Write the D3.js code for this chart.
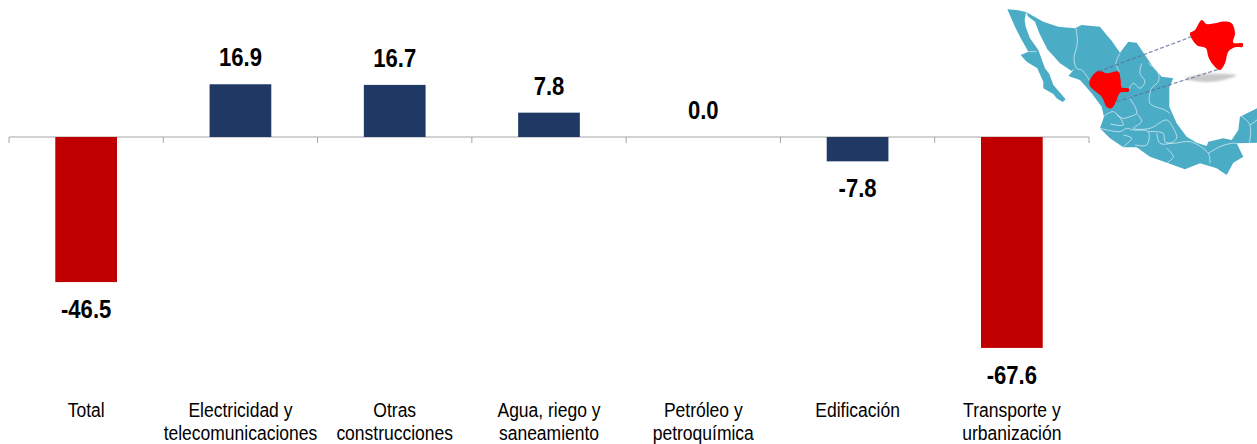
<!DOCTYPE html>
<html>
<head>
<meta charset="utf-8">
<script src="https://cdn.jsdelivr.net/npm/d3@7"></script>
<style>
  html, body { margin: 0; padding: 0; background: #fff; }
  svg { display: block; }
  text { font-family: "Liberation Sans", Arial, sans-serif; fill: #000; }
</style>
</head>
<body>
<div id="chart"></div>
<script>
const categories = [
  ["Total"],
  ["Electricidad y", "telecomunicaciones"],
  ["Otras", "construcciones"],
  ["Agua, riego y", "saneamiento"],
  ["Petróleo y", "petroquímica"],
  ["Edificación"],
  ["Transporte y", "urbanización"]
]
const values = [-46.5, 16.9, 16.7, 7.8, 0.0, -7.8, -67.6]

// map decoration in 3x crop units
const bajaOutline = [[142,28],[170,30],[198,36],[194,60],[197,80],[210,115],[235,150],[246,180],[255,205],[268,222],[280,255],[295,272],[317,298],[308,306],[290,295],[280,282],[250,265],[250,245],[232,205],[200,185],[182,165],[205,155],[180,110],[165,80]]
const mainlandOutline = [[198,36],[250,65],[295,80],[345,85],[365,75],[420,80],[440,105],[455,122],[480,158],[505,125],[530,128],[555,165],[575,195],[605,230],[640,235],[628,262],[628,320],[650,370],[680,410],[710,428],[740,438],[745,425],[790,415],[815,420],[835,390],[840,350],[891,325],[891,428],[830,430],[850,470],[820,488],[800,525],[770,505],[720,490],[675,508],[625,490],[570,470],[530,442],[490,442],[450,415],[420,385],[432,350],[425,320],[395,280],[360,240],[325,228],[345,205],[335,213],[300,190],[262,148],[238,100],[225,65],[205,50]]
const stateBorders = [
  [[348,85],[352,130],[342,175],[350,205],[365,210],[388,240]],
  [[480,160],[468,190],[478,215]],
  [[205,155],[230,155]],
  [[545,190],[540,220],[555,245],[540,265],[520,250],[505,270]],
  [[565,190],[595,220],[595,245],[575,265],[570,310],[615,330],[630,340]],
  [[505,290],[525,320],[530,340],[510,350],[490,355],[470,345]],
  [[430,350],[460,335],[490,375],[450,372]],
  [[420,385],[480,395],[500,385],[520,390],[565,395],[560,435],[525,435]],
  [[530,340],[545,365],[520,385],[570,385],[620,360],[640,385],[650,415],[630,430],[600,430],[590,400]],
  [[565,395],[610,400],[615,425],[640,430],[690,425],[745,460],[750,490]],
  [[620,445],[640,470],[620,490]],
  [[745,460],[780,440],[815,430],[830,430]],
  [[840,345],[870,375],[868,430]],
  [[870,375],[891,360]],
  [[490,405],[515,415],[490,440]]
]
const durango = [[415,212],[440,220],[475,215],[482,240],[485,262],[507,266],[505,275],[480,278],[470,300],[455,325],[440,320],[425,290],[390,258],[390,240]]
const durangoInset = [[690,100],[705,90],[725,60],[740,72],[765,70],[785,65],[815,70],[825,100],[820,128],[848,130],[848,140],[825,142],[805,155],[795,190],[780,210],[760,195],[745,170],[738,145],[710,135]]
const insetShadow = [[675,236],[740,222],[830,226],[790,240],[740,246]]
const guideLines = [[[415,215],[695,110]], [[470,305],[775,208]]]

const width = 1257
const height = 444

const svg = d3.select("#chart").append("svg")
  .attr("width", width)
  .attr("height", height)

svg.append("defs").append("filter")
  .attr("id", "soft")
  .append("feGaussianBlur")
  .attr("stdDeviation", 3)

const x = d3.scaleBand()
  .domain(d3.range(categories.length))
  .range([9, 1089])
const y = d3.scaleLinear()
  .domain([-80, 20])
  .range([386.6, 74.6])

const barWidth = x.bandwidth() * 0.4
const centre = i => x(i) + x.bandwidth() / 2
const barColor = v => v < -10 ? "#c00000" : "#1f3864"

// axis at zero, ticks sit on the band edges
const axis = svg.append("g").attr("class", "axis")
axis.append("line")
  .attr("x1", 9)
  .attr("x2", 1089)
  .attr("y1", y(0))
  .attr("y2", y(0))
  .attr("stroke", "#a6a6a6")
  .attr("stroke-width", 1.2)
axis.selectAll(".tick")
  .data(d3.range(categories.length + 1))
  .join("line")
  .attr("class", "tick")
  .attr("x1", i => i < categories.length ? x(i) : 1089)
  .attr("x2", i => i < categories.length ? x(i) : 1089)
  .attr("y1", y(0))
  .attr("y2", y(0) + 6)
  .attr("stroke", "#a6a6a6")
  .attr("stroke-width", 1)

svg.selectAll(".bar")
  .data(values)
  .join("rect")
  .attr("class", "bar")
  .attr("x", (d, i) => centre(i) - barWidth / 2)
  .attr("width", barWidth)
  .attr("y", d => y(Math.max(d, 0)))
  .attr("height", d => Math.abs(y(d) - y(0)))
  .attr("fill", d => barColor(d))

svg.selectAll(".amount")
  .data(values)
  .join("text")
  .attr("class", "amount")
  .attr("transform", (d, i) => `translate(${centre(i)},${d < 0 ? y(d) + 36 : y(d) - 18}) scale(0.85,1)`)
  .attr("text-anchor", "middle")
  .attr("font-size", 26)
  .attr("font-weight", "bold")
  .text(d => d.toFixed(1))

const labels = svg.selectAll(".label")
  .data(categories)
  .join("text")
  .attr("class", "label")
  .attr("transform", (d, i) => `translate(${centre(i)},417) scale(0.875,1)`)
  .attr("text-anchor", "middle")
  .attr("font-size", 20)

labels.selectAll("tspan")
  .data(d => d.map((line, n) => ({ line, n })))
  .join("tspan")
  .attr("x", 0)
  .attr("y", d => d.n * 23.5)
  .text(d => d.line)

// Mexico map, top right
const map = svg.append("g")
  .attr("class", "map")
  .attr("transform", "translate(960,0) scale(0.3333)")
const shape = d3.line().curve(d3.curveCatmullRomClosed.alpha(0.5))
const rough = d3.line().curve(d3.curveCatmullRom.alpha(0.5))

map.append("path")
  .attr("d", shape(insetShadow))
  .attr("fill", "#c9c9c9")
  .attr("filter", "url(#soft)")
map.selectAll(".land")
  .data([bajaOutline, mainlandOutline])
  .join("path")
  .attr("class", "land")
  .attr("d", d3.line().curve(d3.curveLinearClosed))
  .attr("fill", "#4bacc6")
map.selectAll(".border")
  .data(stateBorders)
  .join("path")
  .attr("class", "border")
  .attr("d", rough)
  .attr("fill", "none")
  .attr("stroke", "#ffffff")
  .attr("stroke-opacity", 0.7)
  .attr("stroke-width", 2.5)
map.selectAll(".state")
  .data([durango, durangoInset])
  .join("path")
  .attr("class", "state")
  .attr("d", shape)
  .attr("fill", "#ff0000")
map.selectAll(".guide")
  .data(guideLines)
  .join("path")
  .attr("class", "guide")
  .attr("d", d3.line())
  .attr("fill", "none")
  .attr("stroke", "#5f6f9c")
  .attr("stroke-opacity", 0.75)
  .attr("stroke-width", 4)
  .attr("stroke-dasharray", "12 6")
</script>
</body>
</html>
